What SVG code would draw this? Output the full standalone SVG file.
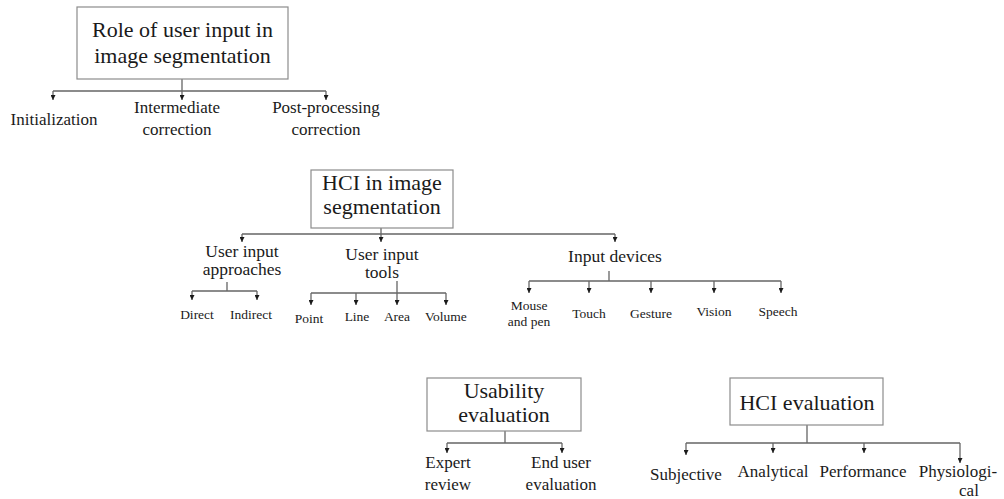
<svg xmlns="http://www.w3.org/2000/svg" width="1004" height="499" viewBox="0 0 1004 499">
  <style>
    .box { fill: #ffffff; stroke: #8c8c8c; stroke-width: 1.2; }
    .title { font-family: "Liberation Serif", "Times New Roman", serif; font-size: 22px; fill: #1a1a1a; text-anchor: middle; }
    .lbl { font-family: "Liberation Serif", "Times New Roman", serif; font-size: 17px; fill: #1a1a1a; text-anchor: middle; }
    .sub { font-family: "Liberation Serif", "Times New Roman", serif; font-size: 17.5px; fill: #1a1a1a; text-anchor: middle; }
    .sm { font-family: "Liberation Serif", "Times New Roman", serif; font-size: 13.5px; fill: #1a1a1a; text-anchor: middle; }
    .wire { fill: none; stroke: #666666; stroke-width: 1.3; }
    .arr { fill: none; stroke: #666666; stroke-width: 1.3; marker-end: url(#tip); }
  </style>
  <defs>
    <marker id="tip" viewBox="0 0 6 6" refX="6" refY="3" markerWidth="5" markerHeight="5" markerUnits="userSpaceOnUse" orient="auto">
      <path d="M0,0 L6,3 L0,6 z" fill="#1a1a1a"/>
    </marker>
  </defs>
  <rect width="1004" height="499" fill="#ffffff"/>

  <!-- connectors -->
  <g id="connectors">
    <!-- role of user input -->
    <path class="wire" d="M182,79 V91 M53,91 H326"/>
    <path class="arr" d="M53,91 V100"/>
    <path class="arr" d="M182,91 V100"/>
    <path class="arr" d="M326,91 V100"/>
    <!-- HCI in image segmentation -->
    <path class="wire" d="M381,228 V234 M242,234 H615"/>
    <path class="arr" d="M242,234 V242"/>
    <path class="arr" d="M381,234 V242"/>
    <path class="arr" d="M615,234 V242"/>
    <!-- user input approaches -->
    <path class="wire" d="M227,282 V291 M192,291 H257"/>
    <path class="arr" d="M192,291 V300"/>
    <path class="arr" d="M257,291 V300"/>
    <!-- user input tools -->
    <path class="wire" d="M397,281 V293 M311,293 H446"/>
    <path class="arr" d="M311,293 V305"/>
    <path class="arr" d="M356,293 V305"/>
    <path class="arr" d="M397,293 V305"/>
    <path class="arr" d="M446,293 V305"/>
    <!-- input devices -->
    <path class="wire" d="M609,271 V281 M529,281 H781"/>
    <path class="arr" d="M529,281 V293"/>
    <path class="arr" d="M589,281 V293"/>
    <path class="arr" d="M651,281 V293"/>
    <path class="arr" d="M714,281 V293"/>
    <path class="arr" d="M781,281 V293"/>
    <!-- usability evaluation -->
    <path class="wire" d="M505,431 V443 M447,443 H562"/>
    <path class="arr" d="M447,443 V453"/>
    <path class="arr" d="M562,443 V453"/>
    <!-- HCI evaluation -->
    <path class="wire" d="M807,425 V443 M686,443 H960"/>
    <path class="arr" d="M686,443 V455"/>
    <path class="arr" d="M773,443 V453"/>
    <path class="arr" d="M864,443 V453"/>
    <path class="arr" d="M960,443 V463"/>
  </g>

  <g id="role-user-input">
    <rect class="box" x="77" y="7" width="211" height="72"/>
    <text class="title" x="182.5" y="37">Role of user input in</text>
    <text class="title" x="182.5" y="63">image segmentation</text>
  </g>
  <g id="initialization">
    <text class="lbl" x="54" y="125">Initialization</text>
  </g>
  <g id="intermediate-correction">
    <text class="lbl" x="177" y="113">Intermediate</text>
    <text class="lbl" x="177" y="135">correction</text>
  </g>
  <g id="post-processing-correction">
    <text class="lbl" x="326" y="113">Post-processing</text>
    <text class="lbl" x="326" y="135">correction</text>
  </g>

  <g id="hci-image-segmentation">
    <rect class="box" x="311" y="170" width="142" height="58"/>
    <text class="title" x="382" y="190">HCI in image</text>
    <text class="title" x="382" y="214">segmentation</text>
  </g>

  <g id="user-input-approaches">
    <text class="sub" x="242" y="257">User input</text>
    <text class="sub" x="242" y="275">approaches</text>
  </g>
  <g id="direct"><text class="sm" x="197" y="319">Direct</text></g>
  <g id="indirect"><text class="sm" x="251" y="319">Indirect</text></g>

  <g id="user-input-tools">
    <text class="sub" x="382" y="260">User input</text>
    <text class="sub" x="382" y="278">tools</text>
  </g>
  <g id="point"><text class="sm" x="309" y="323">Point</text></g>
  <g id="line"><text class="sm" x="357" y="321">Line</text></g>
  <g id="area"><text class="sm" x="397" y="321">Area</text></g>
  <g id="volume"><text class="sm" x="446" y="321">Volume</text></g>

  <g id="input-devices">
    <text class="sub" x="615" y="262">Input devices</text>
  </g>
  <g id="mouse-pen">
    <text class="sm" x="529" y="310">Mouse</text>
    <text class="sm" x="529" y="326">and pen</text>
  </g>
  <g id="touch"><text class="sm" x="589" y="318">Touch</text></g>
  <g id="gesture"><text class="sm" x="651" y="318">Gesture</text></g>
  <g id="vision"><text class="sm" x="714" y="316">Vision</text></g>
  <g id="speech"><text class="sm" x="778" y="316">Speech</text></g>

  <g id="usability-evaluation">
    <rect class="box" x="427" y="378" width="154" height="53"/>
    <text class="title" x="504" y="398">Usability</text>
    <text class="title" x="504" y="422">evaluation</text>
  </g>
  <g id="expert-review">
    <text class="lbl" x="448" y="468">Expert</text>
    <text class="lbl" x="448" y="490">review</text>
  </g>
  <g id="end-user-evaluation">
    <text class="lbl" x="561" y="468">End user</text>
    <text class="lbl" x="561" y="490">evaluation</text>
  </g>

  <g id="hci-evaluation">
    <rect class="box" x="730" y="378" width="153" height="47"/>
    <text class="title" x="807" y="410">HCI evaluation</text>
  </g>
  <g id="subjective"><text class="lbl" x="686" y="480">Subjective</text></g>
  <g id="analytical"><text class="lbl" x="773" y="477">Analytical</text></g>
  <g id="performance"><text class="lbl" x="863" y="477">Performance</text></g>
  <g id="physiological">
    <text class="lbl" x="958" y="477">Physiologi-</text>
    <text class="lbl" x="969" y="496">cal</text>
  </g>
</svg>
